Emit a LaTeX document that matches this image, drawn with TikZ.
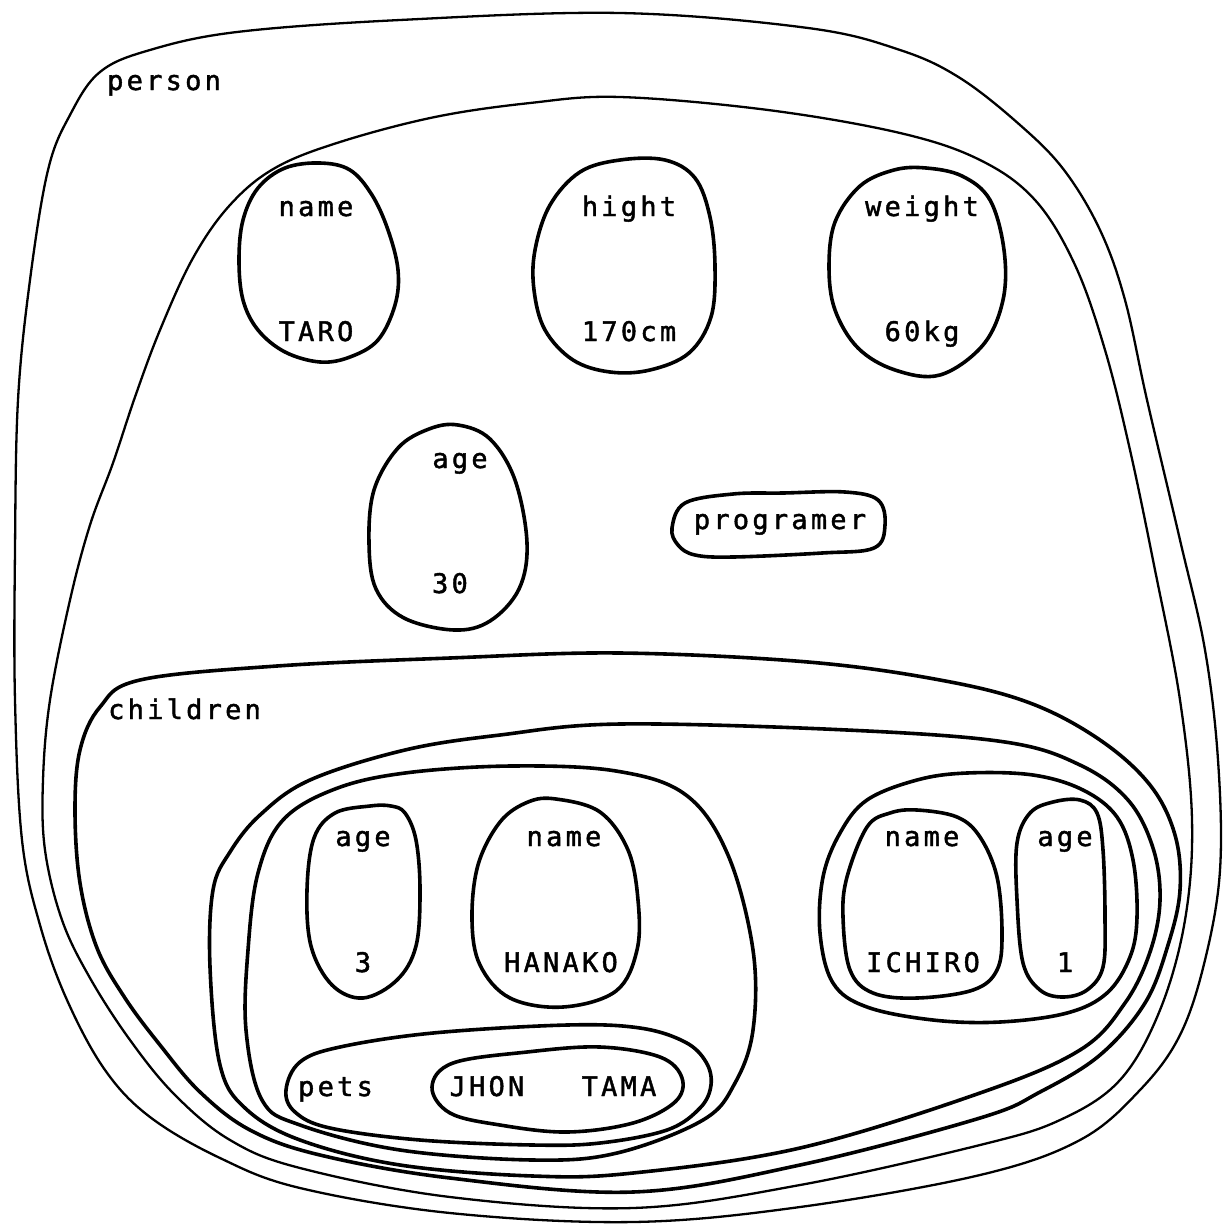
\documentclass[tikz,border=0pt]{standalone}
\usepackage{fontspec}
\newfontfamily\tw[LetterSpace=12,FakeBold=1.6]{DejaVu Sans Mono}
\tikzset{
  blob/.style={line width=3.6pt, line join=round},
  thinblob/.style={line width=2.3pt, line join=round},
  lbl/.style={font=\tw\fontsize{27}{27}\selectfont, anchor=base, inner sep=0pt},
}
\begin{document}
\begin{tikzpicture}[x=1pt,y=-1pt]
\useasboundingbox[fill=white] (0,0) rectangle (1230,1226);

% person outer
\draw[thinblob] plot[smooth cycle, tension=0.6] coordinates {
 (100,72) (150,50) (237,32) (400,20) (620,13) (808,28) (900,50) (960,78)
 (1020,125) (1064,170) (1100,230) (1125,300) (1147,400) (1180,540) (1205,650)
 (1218,760) (1220,870) (1205,960) (1180,1035) (1140,1090) (1080,1140) (980,1175)
 (800,1207) (633,1222) (450,1213) (300,1188) (220,1158) (150,1117) (105,1070)
 (67,1000) (40,925) (22,840) (15,700) (15,550) (18,400) (30,280) (48,170) (70,115)};
% person inner
\draw[thinblob] plot[smooth cycle, tension=0.6] coordinates {
 (620,97) (768,110) (900,133) (980,160) (1035,200) (1075,265) (1105,350)
 (1130,450) (1155,570) (1180,700) (1192,820) (1185,920) (1160,1010) (1120,1080)
 (1060,1120) (980,1145) (800,1185) (633,1208) (450,1197) (300,1168) (230,1140)
 (175,1095) (130,1040) (90,978) (62,920) (45,850) (43,780) (50,700) (70,600)
 (90,525) (113,463) (135,397) (160,330) (193,258) (230,205) (275,168) (340,142)
 (435,117) (530,103)};
% children outer
\draw[blob] plot[smooth cycle, tension=0.6] coordinates {
 (100,707) (140,680) (277,666) (450,658) (620,653) (808,662) (940,680) (1030,703)
 (1100,740) (1150,785) (1175,835) (1180,890) (1168,945) (1145,1003) (1100,1055)
 (1040,1092) (980,1118) (800,1165) (633,1192) (450,1178) (320,1155) (250,1130)
 (200,1092) (160,1045) (125,998) (97,948) (80,883) (75,810) (80,750)};
% children inner
\draw[blob] plot[smooth cycle, tension=0.6] coordinates {
 (620,724) (847,730) (1005,742) (1080,765) (1128,800) (1153,848) (1160,900)
 (1150,952) (1125,1003) (1080,1050) (980,1093) (800,1148) (633,1173) (533,1176)
 (400,1165) (300,1140) (245,1108) (220,1065) (210,967) (213,890) (230,852)
 (260,815) (310,780) (405,750) (500,735)};
% hanako
\draw[blob] plot[smooth cycle, tension=0.6] coordinates {
 (246,1030) (248,950) (258,873) (283,820) (335,789) (405,773) (511,766) (616,771)
 (686,795) (728,855) (753,950) (753,1030) (735,1083) (703,1120) (617,1153)
 (533,1160) (400,1150) (300,1125) (262,1100)};
% hanako age
\draw[blob] plot[smooth cycle, tension=0.6] coordinates {
 (391,806) (405,813) (416,840) (420,890) (416,946) (397,980) (363,998) (332,985)
 (311,946) (307,890) (314,838) (335,813) (370,806)};
% hanako name
\draw[blob] plot[smooth cycle, tension=0.6] coordinates {
 (556,799) (600,812) (628,850) (638,900) (637,950) (616,991) (563,1007) (510,998)
 (480,965) (472,920) (478,865) (500,822) (528,802)};
% pets
\draw[blob] plot[smooth cycle, tension=0.6] coordinates {
 (286,1090) (300,1062) (340,1047) (433,1033) (567,1025) (640,1028) (685,1042)
 (706,1062) (711,1085) (700,1108) (667,1130) (600,1143) (533,1145) (420,1140)
 (330,1128) (295,1112)};
% jhon tama
\draw[blob] plot[smooth cycle, tension=0.6] coordinates {
 (432,1087) (453,1063) (527,1052) (600,1047) (660,1057) (682,1078) (675,1102)
 (633,1123) (567,1132) (500,1125) (450,1113)};
% ichiro group
\draw[blob] plot[smooth cycle, tension=0.6] coordinates {
 (967,773) (1033,775) (1083,790) (1117,817) (1133,860) (1137,917) (1130,957)
 (1107,993) (1067,1013) (1000,1022) (933,1020) (867,1007) (833,983) (820,933)
 (823,877) (840,833) (867,800) (917,780)};
% ichiro name
\draw[blob] plot[smooth cycle, tension=0.6] coordinates {
 (917,810) (957,817) (980,837) (997,877) (1002,933) (997,970) (973,990) (917,998)
 (873,993) (850,970) (843,917) (847,877) (867,827) (890,813)};
% ichiro age
\draw[blob] plot[smooth cycle, tension=0.6] coordinates {
 (1053,802) (1080,800) (1097,813) (1103,850) (1105,917) (1103,967) (1087,990)
 (1063,997) (1040,990) (1023,963) (1017,900) (1017,843) (1030,813)};
% taro
\draw[blob] plot[smooth cycle, tension=0.6] coordinates {
 (320,163) (350,170) (372,195) (388,230) (398,270) (395,305) (378,340) (350,357)
 (320,362) (285,352) (258,330) (243,300) (239,260) (243,220) (258,188) (285,168)};
% hight
\draw[blob] plot[smooth cycle, tension=0.6] coordinates {
 (620,160) (665,160) (695,178) (710,217) (715,267) (711,317) (689,353) (650,370)
 (610,372) (573,360) (545,330) (534,290) (535,250) (550,205) (580,172)};
% weight
\draw[blob] plot[smooth cycle, tension=0.6] coordinates {
 (926,168) (962,176) (990,200) (1004,250) (1003,300) (983,345) (940,375) (895,370)
 (858,348) (835,310) (829,267) (835,222) (860,186) (894,170)};
% age 30
\draw[blob] plot[smooth cycle, tension=0.6] coordinates {
 (458,425) (490,439) (515,480) (527,543) (519,589) (490,621) (454,630) (404,618)
 (376,589) (369,543) (374,490) (398,448) (429,429)};
% programer
\draw[blob] plot[smooth cycle, tension=0.6] coordinates {
 (672,528) (685,503) (733,494) (783,493) (845,492) (878,500) (885,525) (874,548)
 (822,553) (733,557) (695,555) (678,545)};

% labels
\node[lbl, anchor=base west] (tPerson) at (107,90) {person};
\node[lbl] (tName) at (316,216) {name};
\node[lbl] (tTaro) at (316,341) {TARO};
\node[lbl] (tHight) at (629,216) {hight};
\node[lbl] (tHightV) at (629,341) {170cm};
\node[lbl] (tWeight) at (922,216) {weight};
\node[lbl] (tWeightV) at (922,341) {60kg};
\node[lbl] (tAge) at (460,468) {age};
\node[lbl] (tAgeV) at (450,593) {30};
\node[lbl] (tProg) at (780,529) {programer};
\node[lbl, anchor=base west] (tChildren) at (108,719) {children};
\node[lbl] (tHAge) at (363,846) {age};
\node[lbl] (tHAgeV) at (363,972) {3};
\node[lbl] (tHName) at (564,846) {name};
\node[lbl] (tHNameV) at (561,972) {HANAKO};
\node[lbl] (tIName) at (922,846) {name};
\node[lbl] (tINameV) at (923,972) {ICHIRO};
\node[lbl] (tIAge) at (1065,846) {age};
\node[lbl] (tIAgeV) at (1065,972) {1};
\node[lbl, anchor=base west] (tPets) at (298,1096) {pets};
\node[lbl] (tJhon) at (487,1096) {JHON};
\node[lbl] (tTama) at (619,1096) {TAMA};
\end{tikzpicture}
\end{document}
